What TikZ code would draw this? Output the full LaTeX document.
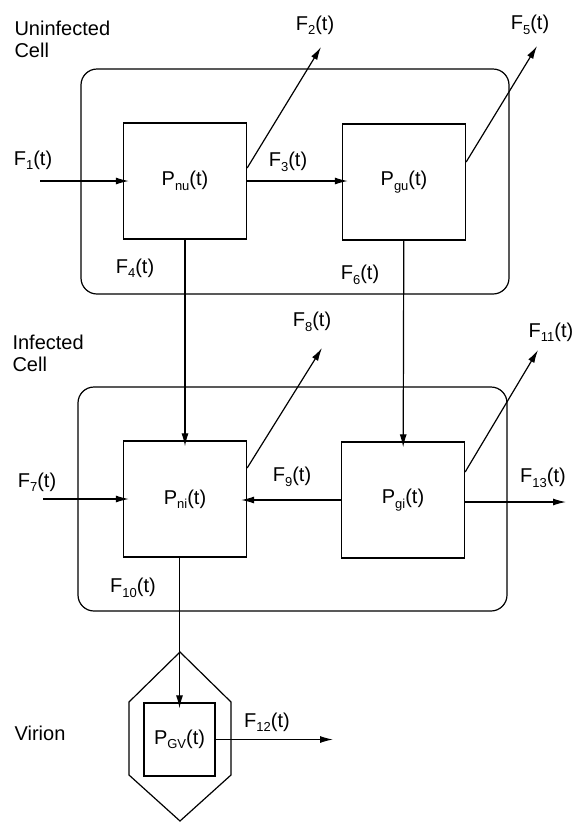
\documentclass[tikz,border=0pt]{standalone}
\usepackage{fontspec}
\setmainfont{Liberation Sans}
\usetikzlibrary{arrows.meta}
\tikzstyle{pool}=[rectangle, draw, line width=1.3pt, minimum width=123pt, minimum height=116pt, inner sep=0pt]
\tikzstyle{cell}=[rectangle, draw, rounded corners=16pt, line width=1.2pt, inner sep=0pt]
\tikzstyle{flow}=[-{Latex[length=13pt,width=7pt]}, line width=1.2pt]
\tikzstyle{inflow}=[flow, shorten >=-6pt]
\newcommand{\pool}{\node[pool]}
\newcommand{\lowsub}[1]{\raisebox{-4.5pt}{\fontsize{13}{13}\selectfont #1}}
\newcommand{\rate}[1]{F\lowsub{#1}(t)}

\begin{document}
\begin{tikzpicture}[x=1pt, y=-1pt, font=\fontsize{20}{22}\selectfont]
            \useasboundingbox (0,0) rectangle (578,823);
            % compartments
            \node[cell, minimum width=428pt, minimum height=225pt] (ucell) at (295,181.5){};
            \node[cell, minimum width=429pt, minimum height=224pt] (icell) at (292.5,499){};
            \draw[line width=1.2pt] (180,652) -- (231,702) -- (231,775) -- (180,821)
                -- (129,775) -- (129,702) -- cycle;
            \node[align=left, anchor=west] (ulabel) at (11,39){Uninfected\\Cell};
            \node[align=left, anchor=west] (ilabel) at (9,353){Infected\\Cell};
            \node (vlabel) at (40,733){Virion};
            % pools
            \pool (nu) at (185,181){P\lowsub{nu}(t)};
            \pool (gu) at (404,182){P\lowsub{gu}(t)};
            \pool (ni) at (185,499){P\lowsub{ni}(t)};
            \pool (gi) at (403,500){P\lowsub{gi}(t)};
            \pool[minimum width=71pt, minimum height=73pt] (gv) at (179.5,739.5){P\lowsub{GV}(t)};
            % free ends
            \coordinate (f1) at (40,181);
            \coordinate (f2) at (321,47);
            \coordinate (f5) at (537,46);
            \coordinate (f7) at (43,499);
            \coordinate (f8) at (322,348);
            \coordinate (f11) at (538,350);
            \coordinate (f12) at (333,739.5);
            \coordinate (f13) at (566,502);
            % flows
            \draw[inflow] (f1) -- (nu.west);
            \draw[flow] ([yshift=13pt]nu.east) -- (f2);
            \draw[inflow] (nu.east) -- (nu.east -| gu.west);
            \draw[flow] ([yshift=20pt]gu.east) -- (f5);
            \draw[inflow] (nu) -- (ni);
            \draw[inflow] (gu) -- (gi);
            \draw[inflow] (f7) -- (ni.west);
            \draw[flow] ([yshift=31pt]ni.east) -- (f8);
            \draw[inflow] (gi.west) -- (gi.west -| ni.east);
            \draw[flow] ([yshift=28pt]gi.east) -- (f11);
            \draw[flow] ([yshift=-2pt]gi.east) -- (f13);
            \draw[inflow] (ni.south -| gv.north) -- (gv.north);
            \draw[flow] (gv.east) -- (f12);
            % labels
            \node (r1) at (33,160){\rate{1}};
            \node (r2) at (315,25){\rate{2}};
            \node (r3) at (288,162){\rate{3}};
            \node (r4) at (135,268){\rate{4}};
            \node (r5) at (530,25){\rate{5}};
            \node (r6) at (360,275){\rate{6}};
            \node (r7) at (37,482){\rate{7}};
            \node (r8) at (312,322){\rate{8}};
            \node (r9) at (292,477){\rate{9}};
            \node (r10) at (133,588){\rate{10}};
            \node (r11) at (551,332){\rate{11}};
            \node (r12) at (267,722){\rate{12}};
            \node (r13) at (543,478){\rate{13}};
        \end{tikzpicture}
\end{document}
